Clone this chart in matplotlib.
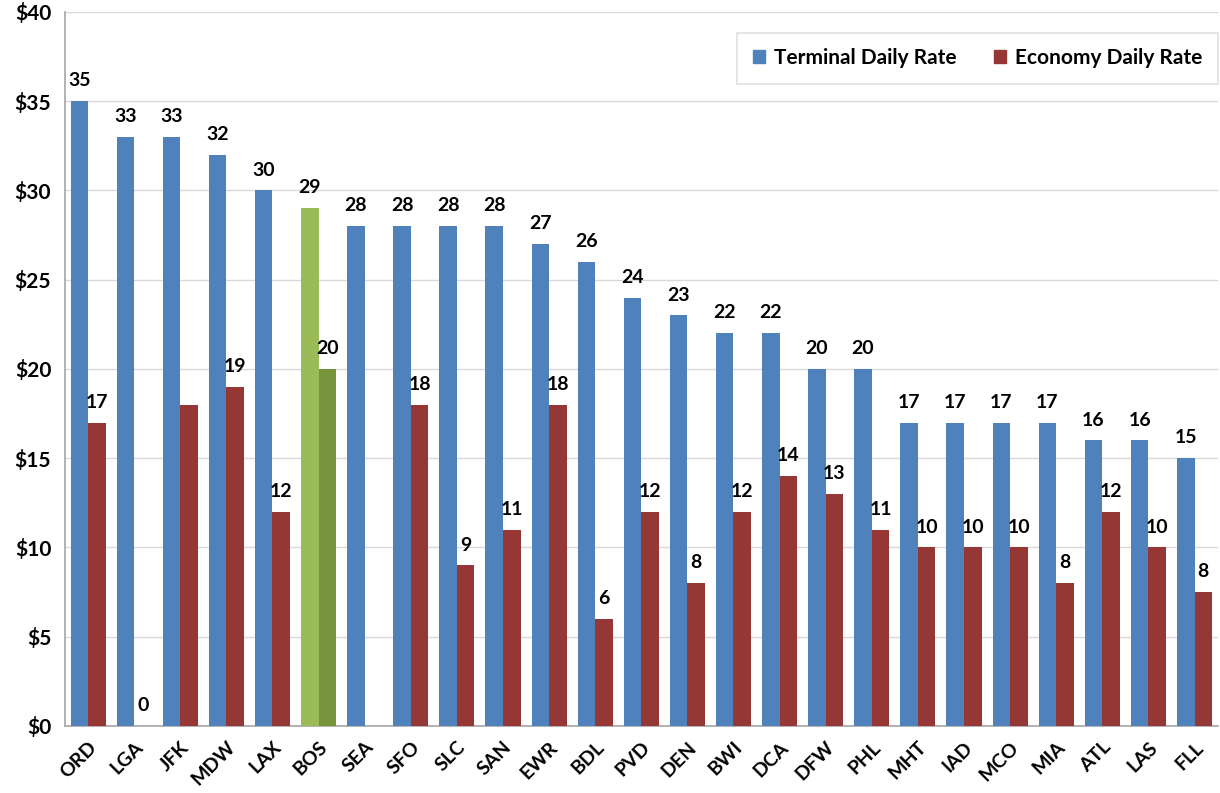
import matplotlib
matplotlib.use("Agg")
import matplotlib.pyplot as plt
import numpy as np
from matplotlib.patches import Patch

airports = ["ORD", "LGA", "JFK", "MDW", "LAX", "BOS", "SEA", "SFO", "SLC", "SAN",
            "EWR", "BDL", "PVD", "DEN", "BWI", "DCA", "DFW", "PHL", "MHT", "IAD",
            "MCO", "MIA", "ATL", "LAS", "FLL"]
terminal = [35, 33, 33, 32, 30, 29, 28, 28, 28, 28,
            27, 26, 24, 23, 22, 22, 20, 20, 17, 17,
            17, 17, 16, 16, 15]
economy = [17, 0, 18, 19, 12, 20, None, 18, 9, 11,
           18, 6, 12, 8, 12, 14, 13, 11, 10, 10,
           10, 8, 12, 10, 7.5]
economy_labels = ["17", "0", None, "19", "12", "20", None, "18", "9", "11",
                  "18", "6", "12", "8", "12", "14", "13", "11", "10", "10",
                  "10", "8", "12", "10", "8"]
highlight = "BOS"
yticks = [0, 5, 10, 15, 20, 25, 30, 35, 40]

BLUE = "#4F81BD"
RED = "#953735"
GREEN_L = "#9BBB59"
GREEN_D = "#77933C"

plt.rcParams['font.family'] = ['Lato', 'DejaVu Sans']

fig = plt.figure(figsize=(12.2, 7.93), dpi=100)
ax = fig.add_axes([0.0533, 0.0845, 0.9447, 0.9005])

x = np.arange(len(airports))
w = 0.38
tcolors = [GREEN_L if a == highlight else BLUE for a in airports]
ecolors = [GREEN_D if a == highlight else RED for a in airports]
eco_vals = [np.nan if v is None else v for v in economy]

ax.bar(x - w / 2, terminal, w, color=tcolors, zorder=3)
ax.bar(x + w / 2, eco_vals, w, color=ecolors, zorder=3)

for xi, v in zip(x, terminal):
    ax.annotate(str(v), (xi - w / 2, v), xytext=(0, 8.5), textcoords="offset points",
                ha="center", va="bottom", fontsize=14, fontweight="bold")
for xi, v, lab in zip(x, economy, economy_labels):
    if v is None or lab is None:
        continue
    ax.annotate(lab, (xi + w / 2, v), xytext=(0, 8.5), textcoords="offset points",
                ha="center", va="bottom", fontsize=14, fontweight="bold")

ax.set_xlim(-0.5, len(airports) - 0.5)
ax.set_ylim(0, 40)
ax.set_yticks(yticks)
ax.set_yticklabels([f"${t}" for t in yticks], fontsize=15, fontweight="bold")
ax.set_xticks(x)
ax.set_xticklabels(airports, rotation=45, ha="right", rotation_mode="anchor",
                   fontsize=14, fontweight="bold")
ax.tick_params(axis="both", length=0, pad=10)
ax.tick_params(axis="x", pad=9)
ax.grid(axis="y", color="#D9D9D9", linewidth=1, zorder=0)
for s in ["top", "right"]:
    ax.spines[s].set_visible(False)
for s in ["left", "bottom"]:
    ax.spines[s].set_color("#A6A6A6")
    ax.spines[s].set_linewidth(1.2)

handles = [Patch(color=BLUE, label="Terminal Daily Rate"),
           Patch(color=RED, label="Economy Daily Rate")]
leg = ax.legend(handles=handles, loc="upper right", bbox_to_anchor=(1.0, 0.971), ncol=2,
                frameon=True, fancybox=False, prop={"weight": "bold", "size": 15},
                handlelength=0.6, handleheight=0.6, handletextpad=0.4,
                columnspacing=1.8, borderpad=0.75, borderaxespad=0,
                edgecolor="#D9D9D9")
leg.get_frame().set_linewidth(1.2)

fig.savefig("out.png", dpi=100)
